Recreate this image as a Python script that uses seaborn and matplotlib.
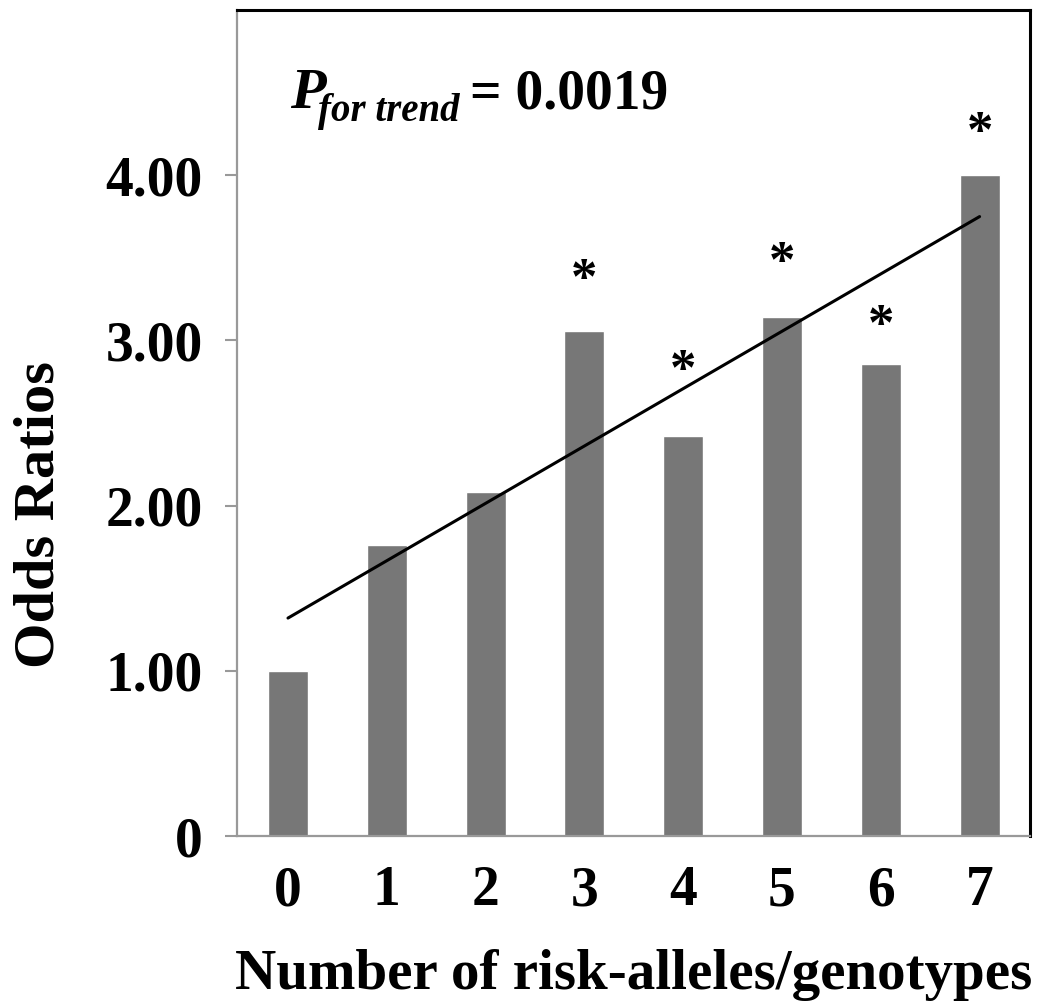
import matplotlib
matplotlib.use("Agg")
import matplotlib.pyplot as plt
import seaborn as sns

# values
categories = ["0", "1", "2", "3", "4", "5", "6", "7"]
odds_ratios = [1.00, 1.76, 2.08, 3.06, 2.42, 3.14, 2.86, 4.00]
trend_x = [0, 7]
trend_y = [1.32, 3.75]
# bars marked significant and where their asterisk sits (data units)
star_idx = [3, 4, 5, 6, 7]
star_y = [3.36, 2.81, 3.46, 3.08, 4.25]
y_ticks = [0, 1, 2, 3, 4]
y_ticklabels = ["0", "1.00", "2.00", "3.00", "4.00"]

sns.set_style("white")
plt.rcParams["font.family"] = ["Liberation Serif", "DejaVu Serif"]
plt.rcParams["font.weight"] = "bold"
plt.rcParams["text.color"] = "black"
plt.rcParams["axes.labelcolor"] = "black"
plt.rcParams["xtick.color"] = "black"
plt.rcParams["ytick.color"] = "black"

fig = plt.figure(figsize=(10.51, 10.05), dpi=100)
ax = fig.add_axes([0.2255, 0.168, 0.7545, 0.822])

sns.barplot(x=categories, y=odds_ratios, color="#777777", saturation=1,
            width=0.405, ax=ax)
sns.lineplot(x=trend_x, y=trend_y, color="black", linewidth=2.2, ax=ax)

for i, y in zip(star_idx, star_y):
    ax.text(i, y, "*", ha="center", va="center", fontsize=38,
            fontweight="bold", color="black")

ax.set_xlim(-0.516, 7.51)
ax.set_ylim(0, 5.0)
ax.set_yticks(y_ticks)
ax.set_yticklabels(y_ticklabels)

ax.tick_params(axis="y", length=8.6, width=1.5, color="#999999",
               labelcolor="black", pad=16, labelsize=40, left=True)
ax.tick_params(axis="x", length=0, pad=21, labelsize=40, labelcolor="black")
for lab in ax.get_xticklabels() + ax.get_yticklabels():
    lab.set_fontweight("bold")

for side in ["left", "bottom"]:
    ax.spines[side].set_color("#999999")
    ax.spines[side].set_linewidth(1.6)
for side in ["top", "right"]:
    ax.spines[side].set_color("black")
    ax.spines[side].set_linewidth(2.2)

ax.set_xlabel("Number of risk-alleles/genotypes", fontsize=41,
              fontweight="bold", labelpad=23, color="black")
ax.set_ylabel("Odds Ratios", fontsize=42, fontweight="bold", color="black")
ax.yaxis.set_label_coords(-0.216, 0.389)

# P for trend annotation
ax.text(0.067, 0.881, "P", transform=ax.transAxes, fontsize=42,
        fontweight="bold", fontstyle="italic", va="baseline", color="black")
ax.text(0.102, 0.866, "for trend", transform=ax.transAxes, fontsize=28,
        fontweight="bold", fontstyle="italic", va="baseline", color="black")
ax.text(0.294, 0.881, "= 0.0019", transform=ax.transAxes, fontsize=40,
        fontweight="bold", va="baseline", color="black")

fig.savefig("out.png", dpi=100)
